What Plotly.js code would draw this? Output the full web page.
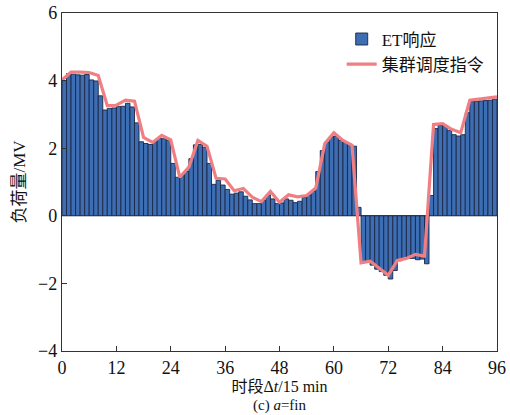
<!DOCTYPE html>
<html>
<head>
<meta charset="utf-8">
<script src="https://cdn.plot.ly/plotly-3.0.1.min.js"></script>
<style>html,body{margin:0;padding:0;background:#fff;}#chart{width:510px;height:415px;}</style>
</head>
<body>
<div id="chart"></div>
<script>
// ET response per 15-min period (bar i spans period i..i+1)
const etResponse = [
  4.00, 4.21, 4.19, 4.17, 4.16, 4.18, 4.02, 3.99, 3.55, 3.13, 3.18, 3.19,
  3.23, 3.24, 3.33, 3.22, 2.75, 2.19, 2.14, 2.11, 2.19, 2.30, 2.28, 2.24,
  1.55, 1.14, 1.19, 1.31, 1.69, 2.10, 2.11, 2.03, 1.55, 0.93, 1.05, 0.91,
  0.78, 0.64, 0.67, 0.71, 0.58, 0.47, 0.36, 0.36, 0.45, 0.62, 0.50, 0.36,
  0.38, 0.50, 0.46, 0.39, 0.43, 0.55, 0.62, 0.72, 1.31, 1.93, 2.18, 2.34,
  2.36, 2.23, 2.17, 2.12, 2.06, 0.25, -1.36, -1.36, -1.46, -1.58, -1.65, -1.76,
  -1.87, -1.62, -1.33, -1.29, -1.26, -1.26, -1.30, -1.28, -1.42, 0.60, 2.58, 2.68,
  2.66, 2.53, 2.40, 2.36, 2.40, 3.05, 3.39, 3.39, 3.40, 3.41, 3.42, 3.45
];
// Cluster dispatch command, read at every 2nd period boundary
const commandTimes = [
  0, 2, 4, 6, 8, 10, 12, 14, 16, 18, 20, 22, 24, 26, 28, 30, 32, 34, 36, 38,
  40, 42, 44, 46, 48, 50, 52, 54, 56, 58, 60, 62, 64, 66, 68, 70, 72, 74, 76,
  78, 80, 82, 84, 86, 88, 90, 92, 94, 96
];
const commandValues = [
  4.02, 4.25, 4.25, 4.24, 4.15, 3.26, 3.27, 3.42, 3.39, 2.32, 2.17, 2.38, 2.25,
  1.14, 1.44, 2.23, 2.06, 1.11, 1.09, 0.74, 0.81, 0.55, 0.42, 0.72, 0.40, 0.62,
  0.56, 0.60, 0.82, 2.14, 2.46, 2.23, 2.09, -1.39, -1.34, -1.54, -1.76, -1.32,
  -1.26, -1.14, -1.19, 2.70, 2.73, 2.56, 2.46, 3.42, 3.45, 3.48, 3.52
];
const xTicks = [0, 12, 24, 36, 48, 60, 72, 84, 96];
const yTicks = [-4, -2, 0, 2, 4, 6];
const seriesNames = ['ET响应', '集群调度指令'];

const barX = etResponse.map((_, i) => i + 0.5);

const SERIF = 'Liberation Serif';
const FONT = 'Liberation Serif, Noto Sans CJK SC';

const traces = [
  {
    type: 'bar',
    name: seriesNames[0],
    x: barX,
    y: etResponse,
    width: 1,
    marker: {color: '#3d6db3', line: {color: '#1b2745', width: 0.9}},
    hoverinfo: 'x+y'
  },
  {
    type: 'scatter',
    mode: 'lines',
    name: seriesNames[1],
    x: commandTimes,
    y: commandValues,
    line: {color: '#f07f84', width: 3.2}
  }
];

const layout = {
  width: 510,
  height: 415,
  margin: {l: 62, r: 13, t: 13, b: 64},
  paper_bgcolor: '#fff',
  plot_bgcolor: '#fff',
  font: {family: FONT, size: 17, color: '#111'},
  bargap: 0,
  showlegend: true,
  legend: {
    x: 0.643, y: 0.975, xanchor: 'left', yanchor: 'top',
    bgcolor: 'rgba(0,0,0,0)', borderwidth: 0,
    font: {family: FONT, size: 17, color: '#111'},
    itemwidth: 30, tracegroupgap: 0
  },
  xaxis: {
    range: [0, 96],
    tickvals: xTicks,
    ticktext: xTicks.map(String),
    ticks: 'inside', ticklen: 5, tickwidth: 1, tickcolor: '#333',
    showline: true, linecolor: '#333', linewidth: 1.2, mirror: true,
    showgrid: false, zeroline: false,
    tickfont: {family: SERIF, size: 18, color: '#111'},
    title: {text: '时段Δ<i>t</i>/15 min', font: {family: FONT, size: 16, color: '#111'}, standoff: 0}
  },
  yaxis: {
    range: [-4, 6],
    tickvals: yTicks,
    ticks: 'inside', ticklen: 5, tickwidth: 1, tickcolor: '#333',
    showline: true, linecolor: '#333', linewidth: 1.2, mirror: true,
    showgrid: false,
    zeroline: true, zerolinecolor: '#555', zerolinewidth: 1,
    tickfont: {family: SERIF, size: 18, color: '#111'},
    title: {text: '负荷量/MV', font: {family: FONT, size: 17, color: '#111'}, standoff: 8}
  },
  annotations: [
    {
      xref: 'paper', yref: 'paper', x: 0.5, y: -0.16, xanchor: 'center', yanchor: 'middle',
      text: '(c) <i>a</i>=fin', showarrow: false,
      font: {family: FONT, size: 15, color: '#111'}
    }
  ]
};

Plotly.newPlot('chart', traces, layout, {displayModeBar: false, staticPlot: true});
</script>
</body>
</html>
